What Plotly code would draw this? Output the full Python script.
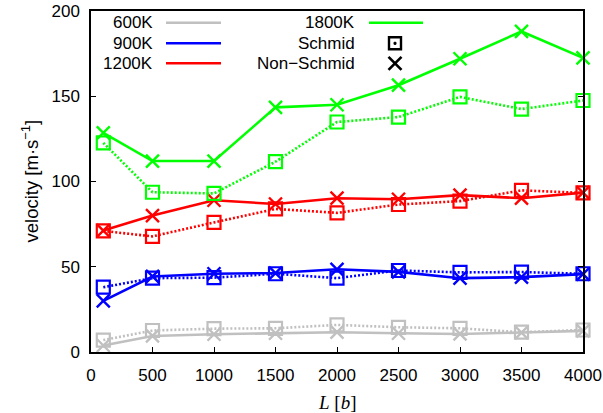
import plotly.graph_objects as go

L = [100, 500, 1000, 1500, 2000, 2500, 3000, 3500, 4000]

temps = ["600K", "900K", "1200K", "1800K"]
colors = {"600K": "#c0c0c0", "900K": "#0000ff", "1200K": "#ff0000", "1800K": "#00ff00"}

schmid_600 = [7.0, 12.6, 13.7, 13.9, 15.9, 14.5, 13.9, 11.6, 12.9]
nonschmid_600 = [3.8, 9.4, 10.4, 11.0, 11.6, 11.0, 10.6, 11.4, 12.4]
schmid_900 = [38.0, 43.3, 43.6, 45.9, 43.3, 47.8, 46.7, 46.9, 45.9]
nonschmid_900 = [30.0, 44.3, 45.9, 46.3, 48.5, 47.0, 43.3, 43.9, 45.7]
schmid_1200 = [71.0, 67.8, 76.0, 83.9, 81.6, 86.5, 88.5, 94.8, 93.3]
nonschmid_1200 = [71.2, 80.0, 89.0, 86.8, 90.2, 89.6, 92.0, 90.2, 93.5]
schmid_1800 = [122.7, 93.7, 93.0, 111.6, 134.9, 137.8, 149.6, 142.5, 147.5]
nonschmid_1800 = [128.5, 112.0, 112.0, 143.5, 145.0, 156.5, 172.0, 188.0, 172.5]

schmid = {"600K": schmid_600, "900K": schmid_900, "1200K": schmid_1200, "1800K": schmid_1800}
nonschmid = {"600K": nonschmid_600, "900K": nonschmid_900, "1200K": nonschmid_1200, "1800K": nonschmid_1800}

xticks = [0, 500, 1000, 1500, 2000, 2500, 3000, 3500, 4000]
yticks = [0, 50, 100, 150, 200]

FONT = "Liberation Sans, Arial, Helvetica, sans-serif"

fig = go.Figure()
for t in temps:
    c = colors[t]
    fig.add_trace(go.Scatter(
        x=L, y=schmid[t], mode="lines+markers",
        line=dict(color=c, width=2.6, dash="2px,2px"),
        marker=dict(symbol="square-open", size=13, color=c, line=dict(width=2.2, color=c)),
        showlegend=False, cliponaxis=False))
    fig.add_trace(go.Scatter(
        x=L, y=nonschmid[t], mode="lines+markers",
        line=dict(color=c, width=2.6),
        marker=dict(symbol="x-thin-open", size=13, color=c, line=dict(width=2.4, color=c)),
        showlegend=False, cliponaxis=False))

# plot area in pixels
W, H = 603, 413
ML, MR, MT, MB = 91, 20, 11, 61
PW, PH = W - ML - MR, H - MT - MB


def px(xp):
    return (xp - ML) / PW


def py(yp):
    return (H - MB - yp) / PH


# legend (gnuplot style key)
shapes = []
annotations = []
rows = [22.7, 43.3, 63.3]
col1 = ["600K", "900K", "1200K"]
for i, t in enumerate(col1):
    annotations.append(dict(x=px(155), y=py(rows[i]), xref="paper", yref="paper",
                            text=t, showarrow=False, xanchor="right", yanchor="middle",
                            font=dict(family=FONT, size=17, color="black")))
    shapes.append(dict(type="line", xref="paper", yref="paper",
                       x0=px(166), x1=px(221), y0=py(rows[i]), y1=py(rows[i]),
                       line=dict(color=colors[t], width=2.6)))
col2 = ["1800K", "Schmid", "Non\u2212Schmid"]
for i, t in enumerate(col2):
    annotations.append(dict(x=px(357), y=py(rows[i]), xref="paper", yref="paper",
                            text=t, showarrow=False, xanchor="right", yanchor="middle",
                            font=dict(family=FONT, size=17, color="black")))
shapes.append(dict(type="line", xref="paper", yref="paper",
                   x0=px(369), x1=px(423), y0=py(rows[0]), y1=py(rows[0]),
                   line=dict(color=colors["1800K"], width=2.6)))
# Schmid square with dot
cx, cy, h = 395, rows[1], 6
shapes.append(dict(type="rect", xref="paper", yref="paper",
                   x0=px(cx - h), x1=px(cx + h), y0=py(cy + h), y1=py(cy - h),
                   line=dict(color="black", width=2.4)))
shapes.append(dict(type="rect", xref="paper", yref="paper",
                   x0=px(cx - 1), x1=px(cx + 1), y0=py(cy + 1), y1=py(cy - 1),
                   line=dict(color="black", width=1), fillcolor="black"))
# Non-Schmid X
cy = rows[2]
shapes.append(dict(type="line", xref="paper", yref="paper",
                   x0=px(cx - 6.5), x1=px(cx + 6.5), y0=py(cy - 6.5), y1=py(cy + 6.5),
                   line=dict(color="black", width=2.6)))
shapes.append(dict(type="line", xref="paper", yref="paper",
                   x0=px(cx - 6.5), x1=px(cx + 6.5), y0=py(cy + 6.5), y1=py(cy - 6.5),
                   line=dict(color="black", width=2.6)))

# axis titles
annotations.append(dict(x=px(30), y=0.5, xref="paper", yref="paper",
                        text="velocity [m\u00b7s<sup>\u22121</sup>]", textangle=-90,
                        showarrow=False, xanchor="center", yanchor="middle",
                        font=dict(family=FONT, size=18.5, color="black")))
annotations.append(dict(x=px(337), y=py(402), xref="paper", yref="paper",
                        text="<i>L</i> [<i>b</i>]", showarrow=False,
                        xanchor="center", yanchor="middle",
                        font=dict(family="Liberation Serif, DejaVu Serif, serif", size=19, color="black")))

fig.update_layout(
    width=W, height=H,
    margin=dict(l=ML, r=MR, t=MT, b=MB, pad=0, autoexpand=False),
    paper_bgcolor="white", plot_bgcolor="white",
    showlegend=False,
    shapes=shapes, annotations=annotations,
    font=dict(family=FONT, size=17, color="black"),
    xaxis=dict(range=[0, 4000], tickvals=xticks, ticktext=[str(v) for v in xticks],
               ticks="inside", ticklen=5, tickwidth=1, tickcolor="black",
               showline=True, linecolor="black", linewidth=1.5, mirror=True,
               showgrid=False, zeroline=False, ticklabelstandoff=7, automargin=False,
               tickfont=dict(family=FONT, size=17, color="black")),
    yaxis=dict(range=[0, 200], tickvals=yticks, ticktext=[str(v) for v in yticks],
               ticks="inside", ticklen=5, tickwidth=1, tickcolor="black",
               showline=True, linecolor="black", linewidth=1.5, mirror="ticks",
               showgrid=False, zeroline=False, ticklabelstandoff=6, automargin=False,
               tickfont=dict(family=FONT, size=17, color="black")),
)

fig.write_html("out.html", config={"displayModeBar": False},
               post_script="document.body.style.margin='0';document.body.style.padding='0';document.body.style.overflow='hidden';")
